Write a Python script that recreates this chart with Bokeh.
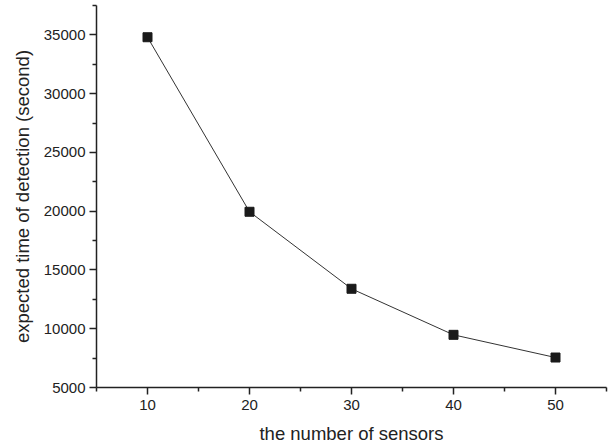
from bokeh.plotting import figure
from bokeh.models import FixedTicker, Range1d
from bokeh.embed import file_html
from bokeh.resources import INLINE

sensors = [10, 20, 30, 40, 50]
detection_time = [34800, 19950, 13400, 9480, 7550]
x_ticks = [10, 20, 30, 40, 50]
x_minor = [5, 15, 25, 35, 45, 55]
y_ticks = [5000, 10000, 15000, 20000, 25000, 30000, 35000]
y_minor = [7500, 12500, 17500, 22500, 27500, 32500, 37500]

p = figure(width=614, height=448, output_backend="svg", toolbar_location=None,
           x_range=Range1d(5, 55), y_range=Range1d(5000, 37500),
           min_border_left=96, min_border_right=8, min_border_top=5, min_border_bottom=61)
p.outline_line_color = None
p.xgrid.visible = False
p.ygrid.visible = False
p.background_fill_color = "white"
p.border_fill_color = "white"

p.line(sensors, detection_time, line_color="#333333", line_width=1)
p.scatter(sensors, detection_time, marker="square", size=9, fill_color="#1a1a1a", line_color="#1a1a1a")

ink = "#222222"
for ax, maj, mnr in ((p.xaxis[0], x_ticks, x_minor), (p.yaxis[0], y_ticks, y_minor)):
    ax.ticker = FixedTicker(ticks=maj, minor_ticks=mnr)
    ax.axis_line_color = ink
    ax.axis_line_width = 1.5
    ax.major_tick_line_color = ink
    ax.minor_tick_line_color = ink
    ax.major_tick_line_width = 1.5
    ax.minor_tick_line_width = 1.5
    ax.major_tick_out = 7
    ax.major_tick_in = 0
    ax.minor_tick_out = 4
    ax.minor_tick_in = 0
    ax.major_label_text_font = "Liberation Sans"
    ax.major_label_text_font_size = "15px"
    ax.major_label_text_color = ink
    ax.axis_label_text_font = "Liberation Sans"
    ax.axis_label_text_font_size = "18.5px"
    ax.axis_label_text_font_style = "normal"
    ax.axis_label_text_color = ink

p.xaxis.axis_label = "the number of sensors"
p.yaxis.axis_label = "expected time of detection (second)"
p.xaxis.major_label_standoff = 5
p.xaxis.axis_label_standoff = 10
p.yaxis.major_label_standoff = 4
p.yaxis.axis_label_standoff = 8

open("out.html", "w").write(file_html(p, INLINE))
